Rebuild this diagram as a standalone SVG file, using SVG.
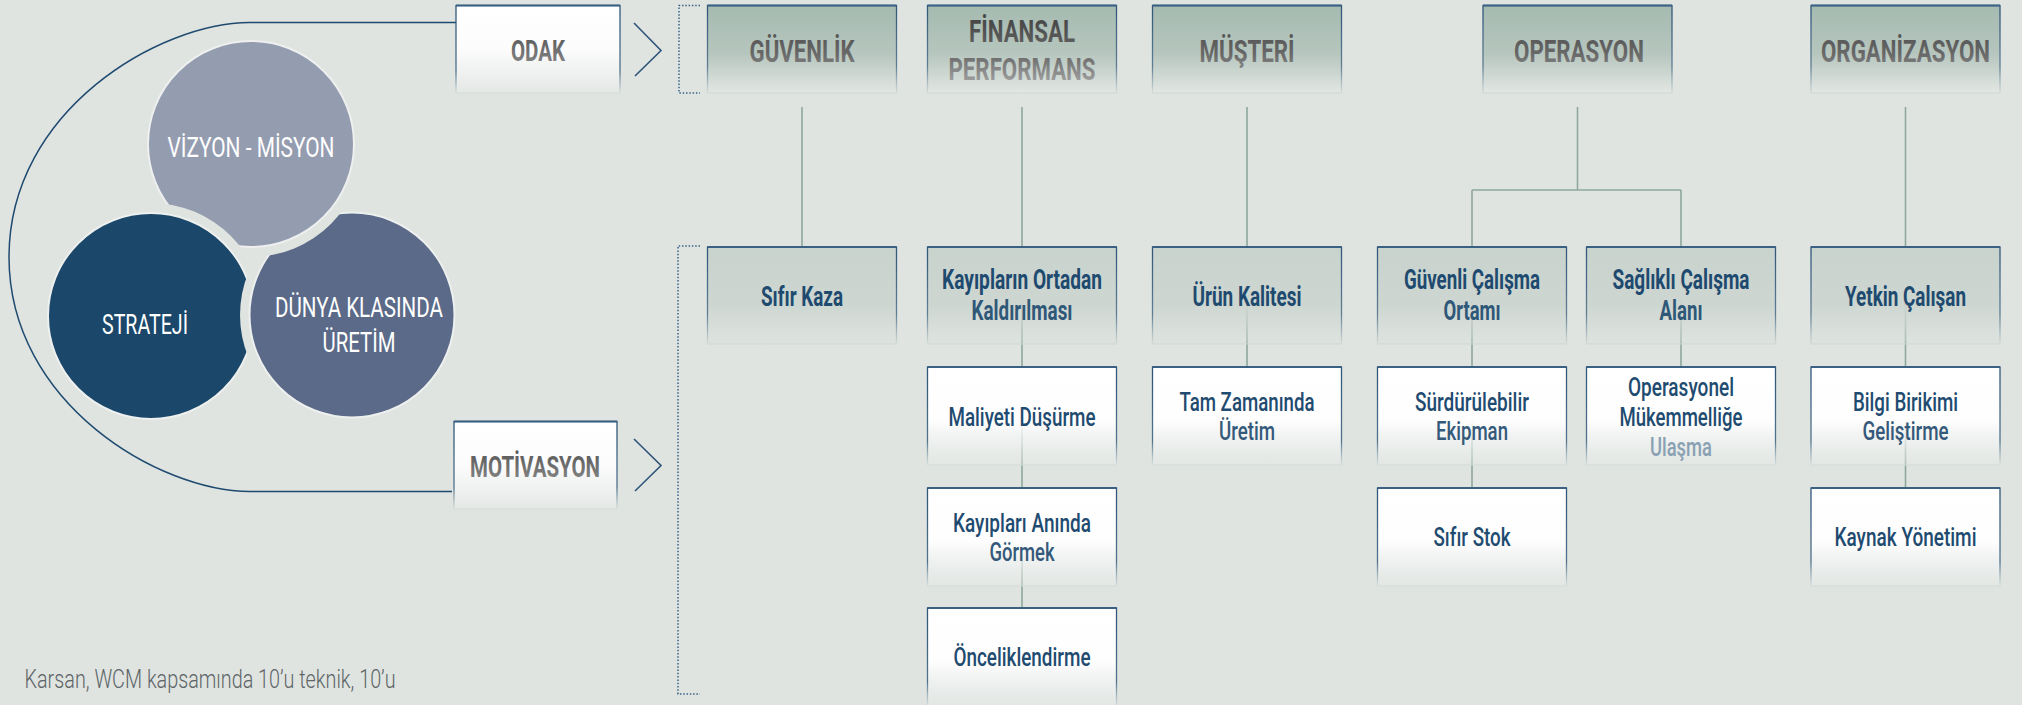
<svg xmlns="http://www.w3.org/2000/svg" width="2022" height="705" viewBox="0 0 2022 705">
<defs>
<style>
.con{stroke:#8fa89c;stroke-width:1.6;fill:none}
.top{stroke:#3a6183;stroke-width:2.2;fill:none}
.dot{stroke:#3b6285;stroke-width:1.5;stroke-dasharray:1.5 1.8;fill:none}
.chev{stroke:#2e5579;stroke-width:1.6;fill:none}
.frame{stroke:#1f4a70;stroke-width:1.5;fill:none}
.hdr{fill:url(#gHdr);stroke:url(#gSide);stroke-width:1.3}
.r2{fill:url(#gR2);stroke:url(#gSide);stroke-width:1.3}
.wb{fill:url(#gW);stroke:url(#gSideW);stroke-width:1.3}
.lbx{fill:url(#gLbx);stroke:url(#gSideW);stroke-width:1.3}
text{font-family:Roboto,"Liberation Sans",sans-serif;text-anchor:middle}
.ht{font-weight:700;font-size:31px;fill:url(#gTxt)}
.lb{font-weight:700;font-size:30px;fill:url(#gLbl)}
.t2{font-weight:700;font-size:27.5px;fill:#1e4a6f}
.t2b{font-weight:700;font-size:27.5px;fill:#2f5878}
.t3{font-weight:500;font-size:25px;fill:#1f4b70}
.t3b{font-weight:500;font-size:25px;fill:#35597a}
.t3c{font-weight:500;font-size:25px;fill:#8aa0b3}
.ct{font-weight:400;font-size:27px;fill:#ffffff}
.cap{font-weight:300;font-size:26px;fill:#5e6468;text-anchor:start}
.circ{stroke:#edf0ee;stroke-width:2}
</style>
<linearGradient id="gHdr" x1="0" y1="0" x2="0" y2="1">
<stop offset="0" stop-color="#a5bab0"/><stop offset="0.55" stop-color="#b6c6be"/><stop offset="1" stop-color="#e2e7e3"/>
</linearGradient>
<linearGradient id="gR2" x1="0" y1="0" x2="0" y2="1">
<stop offset="0" stop-color="#c9d3ce"/><stop offset="0.6" stop-color="#ccd5d0" stop-opacity="0.95"/><stop offset="1" stop-color="#d8dfdb" stop-opacity="0.35"/>
</linearGradient>
<linearGradient id="gW" x1="0" y1="0" x2="0" y2="1">
<stop offset="0" stop-color="#ffffff"/><stop offset="0.55" stop-color="#ffffff" stop-opacity="0.95"/><stop offset="1" stop-color="#e8ecea" stop-opacity="0.4"/>
</linearGradient>
<linearGradient id="gLbx" x1="0" y1="0" x2="0" y2="1">
<stop offset="0" stop-color="#ffffff"/><stop offset="0.5" stop-color="#fbfcfb"/><stop offset="1" stop-color="#e4e8e5"/>
</linearGradient>
<linearGradient id="gSide" x1="0" y1="0" x2="0" y2="1">
<stop offset="0" stop-color="#2f5678"/><stop offset="0.7" stop-color="#4b6d8a" stop-opacity="0.85"/><stop offset="1" stop-color="#cfd8d3" stop-opacity="0.7"/>
</linearGradient>
<linearGradient id="gSideW" x1="0" y1="0" x2="0" y2="1">
<stop offset="0" stop-color="#2d5577"/><stop offset="0.75" stop-color="#3f6483" stop-opacity="0.9"/><stop offset="1" stop-color="#d4dcd7" stop-opacity="0.7"/>
</linearGradient>
<linearGradient id="gTxt" gradientUnits="userSpaceOnUse" x1="0" y1="20" x2="0" y2="88">
<stop offset="0" stop-color="#474747"/><stop offset="0.5" stop-color="#686868"/><stop offset="1" stop-color="#ababab"/>
</linearGradient>
<linearGradient id="gLbl" x1="0" y1="0" x2="0" y2="1">
<stop offset="0" stop-color="#555555"/><stop offset="1" stop-color="#8a8a8a"/>
</linearGradient>
<mask id="mV" maskUnits="userSpaceOnUse" x="0" y="0" width="700" height="705">
<rect x="0" y="0" width="700" height="705" fill="#fff"/><circle cx="151" cy="316" r="113" fill="#000"/>
</mask>
<mask id="mS" maskUnits="userSpaceOnUse" x="0" y="0" width="700" height="705">
<rect x="0" y="0" width="700" height="705" fill="#fff"/><circle cx="352" cy="315" r="112" fill="#000"/>
</mask>
<mask id="mD" maskUnits="userSpaceOnUse" x="0" y="0" width="700" height="705">
<rect x="0" y="0" width="700" height="705" fill="#fff"/><circle cx="251" cy="144" r="113" fill="#000"/>
</mask>
</defs>
<rect x="0" y="0" width="2022" height="705" fill="#dfe4e0"/>

<g id="frame">
<path class="frame" d="M456,22.5 H250 C160,22.5 9,110 9,257 C9,404 160,491.5 250,491.5 H452"/>
<polyline class="chev" points="634,23 661,50.5 635,76"/>
<polyline class="chev" points="634,439 661,465.5 635,491"/>
<path class="dot" d="M700,5.5 H679 V93 H700"/>
<path class="dot" d="M700,246 H678 V694 H700"/>
</g>

<g id="circles">
<g id="vizyon">
<circle class="circ" cx="251" cy="144" r="103" fill="#949cb0" mask="url(#mV)"/>
<text class="ct" x="251" y="157" textLength="167" lengthAdjust="spacingAndGlyphs">VİZYON - MİSYON</text>
</g>
<g id="strateji">
<circle class="circ" cx="151" cy="316" r="103" fill="#1a476a" mask="url(#mS)"/>
<text class="ct" x="145" y="334" textLength="86" lengthAdjust="spacingAndGlyphs">STRATEJİ</text>
</g>
<g id="dunya">
<circle class="circ" cx="352" cy="315" r="102.5" fill="#5b6a88" mask="url(#mD)"/>
<text class="ct" x="359" y="317" textLength="168" lengthAdjust="spacingAndGlyphs">DÜNYA KLASINDA</text>
<text class="ct" x="359" y="352" textLength="73" lengthAdjust="spacingAndGlyphs">ÜRETİM</text>
</g>
</g>

<g id="connectors">
<path class="con" d="M802,107 V247"/>
<path class="con" d="M1022,107 V247 M1022,300 V367 M1022,420 V488 M1022,540 V608"/>
<path class="con" d="M1247,107 V247 M1247,300 V367"/>
<path class="con" d="M1577.5,107 V190 M1472,190 H1681 M1472,190 V247 M1681,190 V247"/>
<path class="con" d="M1472,300 V367 M1472,420 V488 M1681,300 V367"/>
<path class="con" d="M1905.5,107 V247 M1905.5,300 V367 M1905.5,420 V488"/>
</g>

<g id="odak">
<rect class="lbx" x="456" y="5.5" width="164" height="87.5"/>
<path class="top" d="M456,5.5 h164" stroke="#5a7b98"/>
<text class="lb" x="538" y="60.5" textLength="54" lengthAdjust="spacingAndGlyphs">ODAK</text>
</g>
<g id="motivasyon">
<rect class="lbx" x="454" y="421.5" width="163" height="87.5"/>
<path class="top" d="M454,421.5 h163" stroke="#5a7b98"/>
<text class="lb" x="535" y="477" textLength="130" lengthAdjust="spacingAndGlyphs">MOTİVASYON</text>
</g>

<g id="guvenlik">
<rect class="hdr" x="707.5" y="5.5" width="189" height="87.5"/>
<path class="top" d="M707.5,5.5 h189"/>
<text class="ht" x="802" y="62" textLength="105" lengthAdjust="spacingAndGlyphs">GÜVENLİK</text>
</g>
<g id="finansal">
<rect class="hdr" x="927.5" y="5.5" width="189" height="87.5"/>
<path class="top" d="M927.5,5.5 h189"/>
<text class="ht" x="1022" y="42" textLength="106" lengthAdjust="spacingAndGlyphs">FİNANSAL</text>
<text class="ht" x="1022" y="80" textLength="147" lengthAdjust="spacingAndGlyphs">PERFORMANS</text>
</g>
<g id="musteri">
<rect class="hdr" x="1152.5" y="5.5" width="189" height="87.5"/>
<path class="top" d="M1152.5,5.5 h189"/>
<text class="ht" x="1247" y="62" textLength="95" lengthAdjust="spacingAndGlyphs">MÜŞTERİ</text>
</g>
<g id="operasyon">
<rect class="hdr" x="1483" y="5.5" width="189" height="87.5"/>
<path class="top" d="M1483,5.5 h189"/>
<text class="ht" x="1579" y="62" textLength="130" lengthAdjust="spacingAndGlyphs">OPERASYON</text>
</g>
<g id="organizasyon">
<rect class="hdr" x="1811" y="5.5" width="189" height="87.5"/>
<path class="top" d="M1811,5.5 h189"/>
<text class="ht" x="1905.5" y="62" textLength="169" lengthAdjust="spacingAndGlyphs">ORGANİZASYON</text>
</g>

<g id="sifir-kaza">
<rect class="r2" x="707.5" y="247" width="189" height="97"/>
<path class="top" d="M707.5,247 h189"/>
<text class="t2" x="802" y="306" textLength="82" lengthAdjust="spacingAndGlyphs">Sıfır Kaza</text>
</g>
<g id="kayiplarin-ortadan">
<rect class="r2" x="927.5" y="247" width="189" height="97"/>
<path class="top" d="M927.5,247 h189"/>
<text class="t2" x="1022" y="289" textLength="160" lengthAdjust="spacingAndGlyphs">Kayıpların Ortadan</text>
<text class="t2b" x="1022" y="320" textLength="101" lengthAdjust="spacingAndGlyphs">Kaldırılması</text>
</g>
<g id="urun-kalitesi">
<rect class="r2" x="1152.5" y="247" width="189" height="97"/>
<path class="top" d="M1152.5,247 h189"/>
<text class="t2" x="1247" y="306" textLength="109" lengthAdjust="spacingAndGlyphs">Ürün Kalitesi</text>
</g>
<g id="guvenli-calisma">
<rect class="r2" x="1377.5" y="247" width="189" height="97"/>
<path class="top" d="M1377.5,247 h189"/>
<text class="t2" x="1472" y="289" textLength="136" lengthAdjust="spacingAndGlyphs">Güvenli Çalışma</text>
<text class="t2b" x="1472" y="320" textLength="57" lengthAdjust="spacingAndGlyphs">Ortamı</text>
</g>
<g id="saglikli-calisma">
<rect class="r2" x="1586.5" y="247" width="189" height="97"/>
<path class="top" d="M1586.5,247 h189"/>
<text class="t2" x="1681" y="289" textLength="137" lengthAdjust="spacingAndGlyphs">Sağlıklı Çalışma</text>
<text class="t2b" x="1681" y="320" textLength="43" lengthAdjust="spacingAndGlyphs">Alanı</text>
</g>
<g id="yetkin-calisan">
<rect class="r2" x="1811" y="247" width="189" height="97"/>
<path class="top" d="M1811,247 h189"/>
<text class="t2" x="1905.5" y="306" textLength="121" lengthAdjust="spacingAndGlyphs">Yetkin Çalışan</text>
</g>

<g id="maliyeti">
<rect class="wb" x="927.5" y="367" width="189" height="98"/>
<path class="top" d="M927.5,367 h189"/>
<text class="t3" x="1022" y="426" textLength="147" lengthAdjust="spacingAndGlyphs">Maliyeti Düşürme</text>
</g>
<g id="tam-zamaninda">
<rect class="wb" x="1152.5" y="367" width="189" height="98"/>
<path class="top" d="M1152.5,367 h189"/>
<text class="t3" x="1247" y="411" textLength="135" lengthAdjust="spacingAndGlyphs">Tam Zamanında</text>
<text class="t3b" x="1247" y="440" textLength="56" lengthAdjust="spacingAndGlyphs">Üretim</text>
</g>
<g id="surdurulebilir">
<rect class="wb" x="1377.5" y="367" width="189" height="98"/>
<path class="top" d="M1377.5,367 h189"/>
<text class="t3" x="1472" y="411" textLength="114" lengthAdjust="spacingAndGlyphs">Sürdürülebilir</text>
<text class="t3b" x="1472" y="440" textLength="72" lengthAdjust="spacingAndGlyphs">Ekipman</text>
</g>
<g id="operasyonel">
<rect class="wb" x="1586.5" y="367" width="189" height="98"/>
<path class="top" d="M1586.5,367 h189"/>
<text class="t3" x="1681" y="396" textLength="106" lengthAdjust="spacingAndGlyphs">Operasyonel</text>
<text class="t3" x="1681" y="426" textLength="123" lengthAdjust="spacingAndGlyphs">Mükemmelliğe</text>
<text class="t3c" x="1681" y="456" textLength="62" lengthAdjust="spacingAndGlyphs">Ulaşma</text>
</g>
<g id="bilgi-birikimi">
<rect class="wb" x="1811" y="367" width="189" height="98"/>
<path class="top" d="M1811,367 h189"/>
<text class="t3" x="1905.5" y="411" textLength="105" lengthAdjust="spacingAndGlyphs">Bilgi Birikimi</text>
<text class="t3b" x="1905.5" y="440" textLength="86" lengthAdjust="spacingAndGlyphs">Geliştirme</text>
</g>

<g id="kayiplari-aninda">
<rect class="wb" x="927.5" y="488" width="189" height="98"/>
<path class="top" d="M927.5,488 h189"/>
<text class="t3" x="1022" y="532" textLength="138" lengthAdjust="spacingAndGlyphs">Kayıpları Anında</text>
<text class="t3b" x="1022" y="561" textLength="65" lengthAdjust="spacingAndGlyphs">Görmek</text>
</g>
<g id="sifir-stok">
<rect class="wb" x="1377.5" y="488" width="189" height="98"/>
<path class="top" d="M1377.5,488 h189"/>
<text class="t3" x="1472" y="546" textLength="77" lengthAdjust="spacingAndGlyphs">Sıfır Stok</text>
</g>
<g id="kaynak-yonetimi">
<rect class="wb" x="1811" y="488" width="189" height="98"/>
<path class="top" d="M1811,488 h189"/>
<text class="t3" x="1905.5" y="546" textLength="142" lengthAdjust="spacingAndGlyphs">Kaynak Yönetimi</text>
</g>

<g id="onceliklendirme">
<rect class="wb" x="927.5" y="608" width="189" height="98"/>
<path class="top" d="M927.5,608 h189"/>
<text class="t3" x="1022" y="666" textLength="137" lengthAdjust="spacingAndGlyphs">Önceliklendirme</text>
</g>

<g id="caption">
<text class="cap" x="24.5" y="688" textLength="371" lengthAdjust="spacingAndGlyphs">Karsan, WCM kapsamında 10’u teknik, 10’u</text>
</g>
</svg>
